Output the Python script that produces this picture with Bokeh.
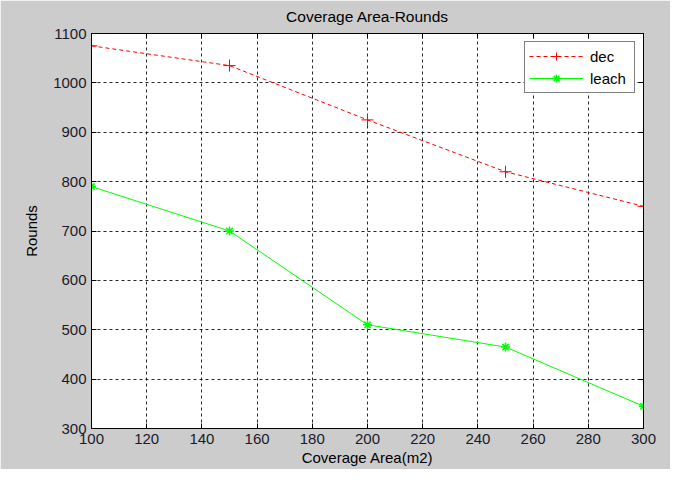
from bokeh.plotting import figure
from bokeh.models import Range1d, FixedTicker, LinearAxis, CustomLabelingPolicy
from bokeh.embed import file_html
from bokeh.resources import INLINE

area = [100, 150, 200, 250, 300]
dec_rounds = [1075, 1035, 925, 820, 750]
leach_rounds = [790, 700, 510, 465, 345]
x_ticks = [100, 120, 140, 160, 180, 200, 220, 240, 260, 280, 300]
y_ticks = [300, 400, 500, 600, 700, 800, 900, 1000, 1100]

FONT = "Liberation Sans"
FS = "15px"

p = figure(width=670, height=469, output_backend="svg", toolbar_location=None,
           x_range=Range1d(100, 300), y_range=Range1d(300, 1100),
           title="Coverage Area-Rounds",
           min_border_left=91, min_border_right=27, min_border_top=32, min_border_bottom=41)

p.background_fill_color = "#FFFFFF"
p.border_fill_color = "#CCCCCC"
p.outline_line_color = "#000000"
p.outline_line_width = 1
p.outline_line_alpha = 1

p.title.align = "center"
p.title.text_font = FONT
p.title.text_font_size = "15.5px"
p.title.text_font_style = "normal"
p.title.text_color = "#000000"

for ax in (p.xaxis[0], p.yaxis[0]):
    ax.major_tick_in = 5
    ax.major_tick_out = 0
    ax.minor_tick_in = 0
    ax.minor_tick_out = 0
    ax.axis_line_color = "#000000"
    ax.major_tick_line_color = "#000000"
    ax.major_label_text_font = FONT
    ax.major_label_text_font_size = FS
    ax.major_label_text_color = "#1a1a2a"
    ax.axis_label_text_font = FONT
    ax.axis_label_text_font_size = FS
    ax.axis_label_text_font_style = "normal"
    ax.axis_label_text_color = "#000000"

p.xaxis[0].ticker = FixedTicker(ticks=x_ticks)
p.yaxis[0].ticker = FixedTicker(ticks=y_ticks)
p.xaxis[0].axis_label = "Coverage Area(m2)"
p.yaxis[0].axis_label = "Rounds"
p.xaxis[0].major_label_standoff = 5
p.xaxis[0].axis_label_standoff = 2
p.yaxis[0].major_label_standoff = 5
p.yaxis[0].axis_label_standoff = 10

hide_labels = CustomLabelingPolicy(code="""
try { for (const i of Array.from(indices)) indices.unset(i); } catch (e) {}
return indices
""")
for loc, tk in (("above", x_ticks), ("right", y_ticks)):
    a = LinearAxis(ticker=FixedTicker(ticks=tk))
    a.major_tick_in = 5
    a.major_tick_out = 0
    a.minor_tick_in = 0
    a.minor_tick_out = 0
    a.major_label_policy = hide_labels
    a.major_label_text_font_size = "1px"
    a.major_label_standoff = 0
    a.axis_line_color = "#000000"
    a.major_tick_line_color = "#000000"
    p.add_layout(a, loc)

p.xgrid.ticker = FixedTicker(ticks=x_ticks)
p.ygrid.ticker = FixedTicker(ticks=y_ticks)
p.grid.grid_line_color = "#000000"
p.grid.grid_line_alpha = 0.85
p.grid.grid_line_dash = "3 3"
p.grid.grid_line_width = 1

p.line(area, dec_rounds, line_color="#FF0000", line_width=1, line_dash="4 3", legend_label="dec")
p.scatter(area, dec_rounds, marker="cross", size=12, line_color="#FF0000", line_width=1, legend_label="dec")
p.line(area, leach_rounds, line_color="#00FF00", line_width=1, legend_label="leach")
p.scatter(area, leach_rounds, marker="asterisk", size=9, line_color="#00FF00", line_width=1.5, legend_label="leach")

lg = p.legend[0]
lg.location = "top_right"
lg.margin = 8
lg.padding = 4
lg.spacing = 2
lg.glyph_width = 54
lg.glyph_height = 20
lg.label_height = 20
lg.label_width = 40
lg.label_standoff = 7
lg.label_text_font = FONT
lg.label_text_font_size = FS
lg.label_text_color = "#000000"
lg.border_line_color = "#000000"
lg.border_line_width = 1
lg.background_fill_color = "#FFFFFF"
lg.background_fill_alpha = 1

open("out.html", "w").write(file_html(p, INLINE))
